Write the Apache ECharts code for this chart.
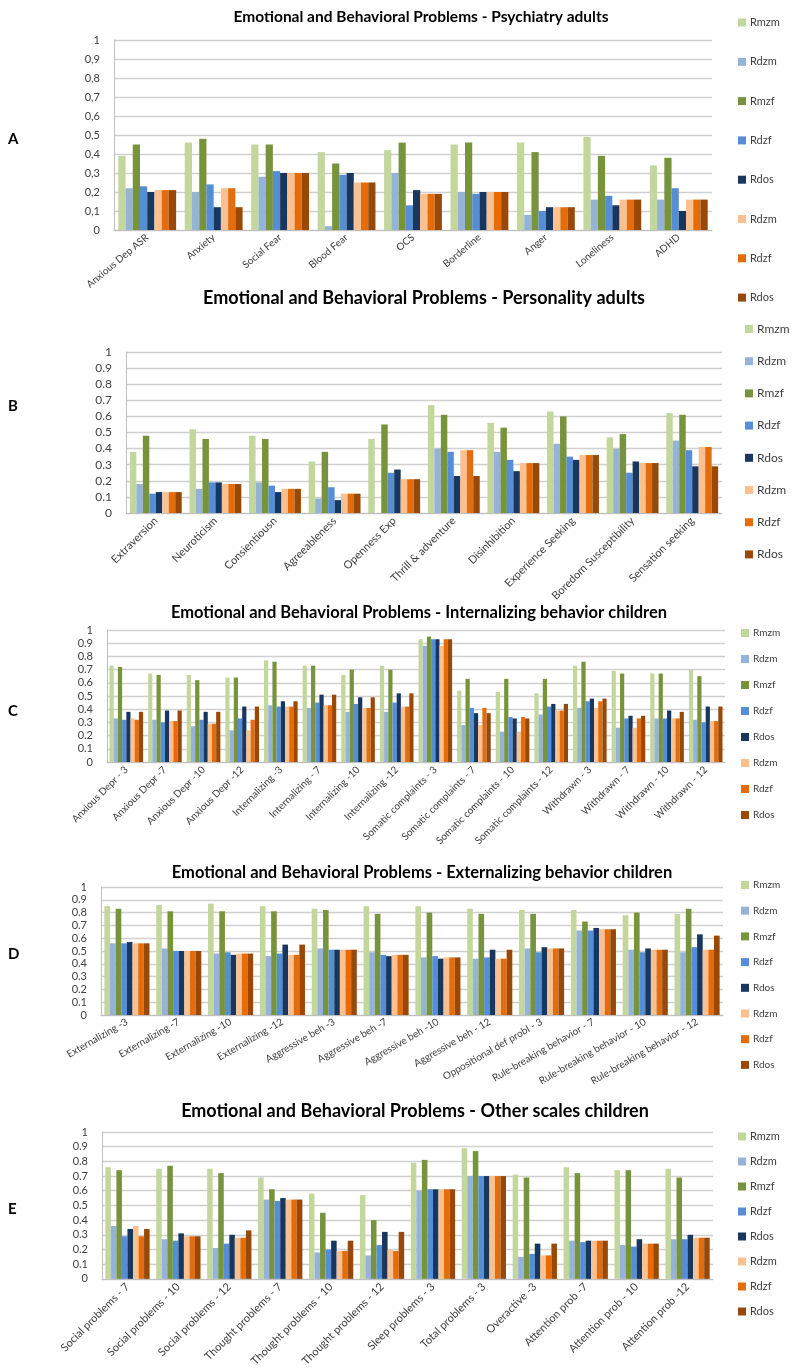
<!DOCTYPE html>
<html><head><meta charset="utf-8">
<script src="https://cdn.jsdelivr.net/npm/echarts@6/dist/echarts.min.js"></script>
<style>html,body{margin:0;padding:0;background:#fff}#c{width:800px;height:1369px}</style>
</head><body><div id="c"></div>
<script>
// ---------- DATA ----------
const seriesNames = ['Rmzm','Rdzm','Rmzf','Rdzf','Rdos','Rdzm','Rdzf','Rdos'];
const yTicks = [0,0.1,0.2,0.3,0.4,0.5,0.6,0.7,0.8,0.9,1];

const titleA = 'Emotional and Behavioral Problems - Psychiatry adults';
const catsA = ['Anxious Dep ASR','Anxiety','Social Fear','Blood Fear','OCS','Borderline','Anger','Loneliness','ADHD'];
const valsA = [
  [0.39,0.46,0.45,0.41,0.42,0.45,0.46,0.49,0.34],
  [0.22,0.20,0.28,0.02,0.30,0.20,0.08,0.16,0.16],
  [0.45,0.48,0.45,0.35,0.46,0.46,0.41,0.39,0.38],
  [0.23,0.24,0.31,0.29,0.13,0.19,0.10,0.18,0.22],
  [0.20,0.12,0.30,0.30,0.21,0.20,0.12,0.13,0.10],
  [0.21,0.22,0.30,0.25,0.19,0.20,0.12,0.16,0.16],
  [0.21,0.22,0.30,0.25,0.19,0.20,0.12,0.16,0.16],
  [0.21,0.12,0.30,0.25,0.19,0.20,0.12,0.16,0.16]
];

const titleB = 'Emotional and Behavioral Problems - Personality adults';
const catsB = ['Extraversion','Neuroticism','Consientiousn','Agreeableness','Openness Exp','Thrill & adventure','Disinhibition','Experience Seeking','Boredom Susceptibility','Sensation seeking'];
const valsB = [
  [0.38,0.52,0.48,0.32,0.46,0.67,0.56,0.63,0.47,0.62],
  [0.18,0.15,0.19,0.09,-0.01,0.40,0.38,0.43,0.40,0.45],
  [0.48,0.46,0.46,0.38,0.55,0.61,0.53,0.60,0.49,0.61],
  [0.12,0.19,0.17,0.16,0.25,0.38,0.33,0.35,0.25,0.39],
  [0.13,0.19,0.13,0.08,0.27,0.23,0.26,0.33,0.32,0.29],
  [0.13,0.18,0.15,0.12,0.21,0.39,0.31,0.36,0.31,0.41],
  [0.13,0.18,0.15,0.12,0.21,0.39,0.31,0.36,0.31,0.41],
  [0.13,0.18,0.15,0.12,0.21,0.23,0.31,0.36,0.31,0.29]
];

const titleC = 'Emotional and Behavioral Problems - Internalizing behavior children';
const catsC = ['Anxious Depr - 3','Anxious Depr -7','Anxious Depr -10','Anxious Depr -12','Internalizing -3','Internalizing - 7','Internalizing -10','Internalizing -12','Somatic complaints - 3','Somatic complaints - 7','Somatic complaints - 10','Somatic complaints - 12','Withdrawn - 3','Withdrawn - 7','Withdrawn - 10','Withdrawn - 12'];
const valsC = [
  [0.73,0.67,0.66,0.64,0.77,0.73,0.66,0.73,0.93,0.54,0.53,0.52,0.73,0.69,0.67,0.70],
  [0.33,0.32,0.27,0.24,0.43,0.41,0.38,0.38,0.88,0.28,0.23,0.36,0.41,0.26,0.33,0.32],
  [0.72,0.66,0.62,0.64,0.76,0.73,0.70,0.70,0.95,0.63,0.63,0.63,0.76,0.67,0.67,0.65],
  [0.32,0.30,0.32,0.33,0.42,0.45,0.44,0.45,0.93,0.41,0.34,0.42,0.46,0.33,0.33,0.30],
  [0.38,0.39,0.38,0.42,0.46,0.51,0.49,0.52,0.93,0.37,0.33,0.44,0.48,0.35,0.39,0.42],
  [0.33,0.31,0.29,0.24,0.42,0.43,0.41,0.42,0.88,0.28,0.23,0.39,0.41,0.26,0.33,0.31],
  [0.32,0.31,0.29,0.32,0.42,0.43,0.41,0.42,0.93,0.41,0.34,0.39,0.46,0.33,0.33,0.31],
  [0.38,0.39,0.38,0.42,0.46,0.51,0.49,0.52,0.93,0.37,0.33,0.44,0.48,0.35,0.38,0.42]
];

const titleD = 'Emotional and Behavioral Problems - Externalizing behavior children';
const catsD = ['Externalizing -3','Externalizing -7','Externalizing -10','Externalizing -12','Aggressive beh -3','Aggressive beh -7','Aggressive beh -10','Aggressive beh - 12','Oppositional def probl - 3','Rule-breaking behavior - 7','Rule-breaking behavior - 10','Rule-breaking behavior - 12'];
const valsD = [
  [0.85,0.86,0.87,0.85,0.83,0.85,0.85,0.83,0.82,0.82,0.78,0.79],
  [0.56,0.52,0.48,0.46,0.52,0.49,0.45,0.44,0.52,0.66,0.51,0.49],
  [0.83,0.81,0.81,0.81,0.82,0.79,0.80,0.79,0.79,0.73,0.80,0.83],
  [0.56,0.50,0.49,0.48,0.51,0.47,0.46,0.45,0.49,0.66,0.49,0.53],
  [0.57,0.50,0.47,0.55,0.51,0.46,0.44,0.51,0.53,0.68,0.52,0.63],
  [0.56,0.50,0.48,0.47,0.51,0.47,0.45,0.44,0.52,0.67,0.51,0.51],
  [0.56,0.50,0.48,0.47,0.51,0.47,0.45,0.44,0.52,0.67,0.51,0.51],
  [0.56,0.50,0.48,0.55,0.51,0.47,0.45,0.51,0.52,0.67,0.51,0.62]
];

const titleE = 'Emotional and Behavioral Problems - Other scales children';
const catsE = ['Social problems - 7','Social problems - 10','Social problems - 12','Thought problems - 7','Thought problems - 10','Thought problems - 12','Sleep problems - 3','Total problems - 3','Overactive -3','Attention prob -7','Attention prob - 10','Attention prob -12'];
const valsE = [
  [0.76,0.75,0.75,0.69,0.58,0.57,0.79,0.89,0.71,0.76,0.74,0.75],
  [0.36,0.27,0.21,0.54,0.18,0.16,0.60,0.70,0.15,0.26,0.23,0.27],
  [0.74,0.77,0.72,0.61,0.45,0.40,0.81,0.87,0.69,0.72,0.74,0.69],
  [0.29,0.26,0.24,0.53,0.20,0.23,0.61,0.70,0.17,0.25,0.22,0.27],
  [0.34,0.31,0.30,0.55,0.26,0.32,0.61,0.70,0.24,0.26,0.27,0.30],
  [0.36,0.29,0.28,0.54,0.19,0.20,0.61,0.70,0.16,0.26,0.24,0.28],
  [0.29,0.29,0.28,0.54,0.19,0.19,0.61,0.70,0.16,0.26,0.24,0.28],
  [0.34,0.29,0.33,0.54,0.26,0.32,0.61,0.70,0.24,0.26,0.24,0.28]
];

// ---------- STYLE / LAYOUT ----------
const colors = ['#c3d69b','#95b3d7','#77933c','#558ed5','#17375e','#fac090','#e46c0a','#984807'];
const FONT = 'Lato';
const panels = [
  {key:'A', title:titleA, cats:catsA, vals:valsA, comma:true,
   grid:{left:114,width:598,top:40,height:190}, titleX:416, titleY:4, titleSize:15.5,
   leg:{left:733,top:12,gap:28.3,size:11}, letterY:132, rot:40, lblSize:10},
  {key:'B', title:titleB, cats:catsB, vals:valsB, comma:false,
   grid:{left:126,width:596,top:352,height:161}, titleX:419, titleY:284, titleSize:18,
   leg:{left:740,top:318,gap:20.2,size:12}, letterY:399, rot:45, lblSize:11},
  {key:'C', title:titleC, cats:catsC, vals:valsC, comma:false,
   grid:{left:107,width:618,top:630,height:132}, titleX:414, titleY:599, titleSize:16.5,
   leg:{left:736,top:623,gap:16,size:10}, letterY:704, rot:45, lblSize:10},
  {key:'D', title:titleD, cats:catsD, vals:valsD, comma:false,
   grid:{left:101,width:622,top:887,height:128}, titleX:417, titleY:859, titleSize:16.5,
   leg:{left:736,top:875,gap:15.7,size:10}, letterY:947, rot:30, lblSize:10},
  {key:'E', title:titleE, cats:catsE, vals:valsE, comma:false,
   grid:{left:102,width:611,top:1132,height:150}, titleX:410, titleY:1097, titleSize:18,
   leg:{left:733,top:1126,gap:14,size:11}, letterY:1202, rot:45, lblSize:11}
];

const option = {animation:false, textStyle:{fontFamily:FONT}, title:[], grid:[], xAxis:[], yAxis:[], legend:[], series:[], graphic:[]};

panels.forEach((p, i) => {
  option.title.push({text:p.title, left:p.titleX, textAlign:'center', top:p.titleY,
    textStyle:{fontFamily:FONT, fontWeight:'bold', fontSize:p.titleSize, color:'#000'}});
  option.grid.push({left:p.grid.left, width:p.grid.width, top:p.grid.top, height:p.grid.height, containLabel:false});
  option.xAxis.push({type:'category', gridIndex:i, data:p.cats,
    axisLine:{lineStyle:{color:'#bfbfbf'}}, axisTick:{show:false},
    axisLabel:{interval:0, rotate:p.rot, fontSize:p.lblSize, color:'#404040', fontFamily:FONT, margin:6}});
  option.yAxis.push({type:'value', gridIndex:i, min:yTicks[0], max:yTicks[yTicks.length-1], interval:0.1,
    axisLine:{show:true, lineStyle:{color:'#bfbfbf'}}, axisTick:{show:false},
    splitLine:{lineStyle:{color:'#d0d0d0', width:1.3}},
    axisLabel:{fontSize:p.key==='B'?12:11, color:'#404040', fontFamily:FONT, margin:14,
      formatter: v => { const s = String(+v.toFixed(1)); return p.comma ? s.replace('.', ',') : s; }}});
  const names = seriesNames.map((n, j) => p.key + '|' + n + '|' + j);
  option.legend.push({orient:'vertical', left:p.leg.left, top:p.leg.top, itemGap:p.leg.gap,
    itemWidth:8, itemHeight:8, icon:'rect', data:names, selectedMode:false,
    textStyle:{fontSize:p.leg.size, color:'#404040', fontFamily:FONT, padding:[0,0,0,-1]},
    formatter: n => n.split('|')[1]});
  p.vals.forEach((arr, j) => {
    option.series.push({type:'bar', name:names[j], xAxisIndex:i, yAxisIndex:i, data:arr,
      itemStyle:{color:colors[j]}, barGap:'0%', barCategoryGap:'13%'});
  });
  option.graphic.push({type:'text', left:8, top:p.letterY,
    style:{text:p.key, font:'bold 15px ' + FONT, fill:'#000'}});
});

const chart = echarts.init(document.getElementById('c'), null, {renderer:'canvas'});
chart.setOption(option);
</script></body></html>
